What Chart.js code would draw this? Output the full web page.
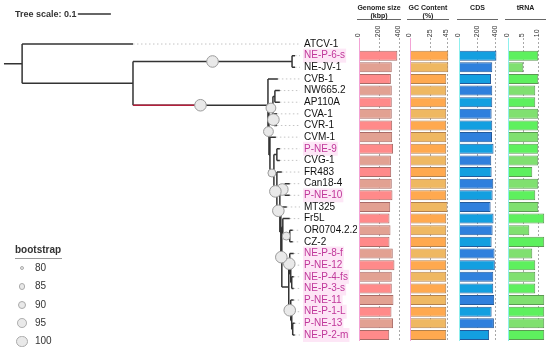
<!DOCTYPE html>
<html>
<head>
<meta charset="utf-8">
<script src="https://cdn.jsdelivr.net/npm/chart.js@4.4.1/dist/chart.umd.min.js"></script>
<style>
  body { margin: 0; background: #fff; font-family: 'Liberation Sans', Arial, sans-serif; }
  #wrap { position: relative; width: 550px; height: 358px; overflow: hidden; }
  #wrap canvas { position: absolute; top: 0; }
  .hd { position: absolute; top: 4px; height: 15px; font-size: 7px; font-weight: bold; line-height: 7.5px;
        text-align: center; color: #222; border-bottom: 1px solid #666; }
  #scale { position: absolute; left: 15px; top: 9px; font-size: 9px; font-weight: bold; color: #333; }
  #legend { position: absolute; left: 15px; top: 244px; width: 47px; color: #333; }
  #legend .t { font-size: 10px; font-weight: bold; padding-bottom: 3px; border-bottom: 1px solid #999; }
  #legend .it { position: relative; height: 18.3px; font-size: 10px; line-height: 18.3px; padding-left: 20px; }
  #legend .dot { position: absolute; border-radius: 50%; background: #e9e9e9; border: 1px solid #aaa; box-sizing: border-box; }
</style>
</head>
<body>
<div id="wrap">
  <canvas id="tree" width="357" height="358" style="left:0"></canvas>
  <canvas id="genome"></canvas>
  <canvas id="gc"></canvas>
  <canvas id="cds"></canvas>
  <canvas id="trna"></canvas>
  <div class="hd" style="left:357px;width:44px">Genome size<br>(kbp)</div>
  <div class="hd" style="left:407px;width:42px">GC Content<br>(%)</div>
  <div class="hd" style="left:457px;width:41px">CDS</div>
  <div class="hd" style="left:505px;width:41px">tRNA</div>
  <div id="scale">Tree scale: 0.1</div>
  <div id="legend"><div class="t">bootstrap</div></div>
</div>
<script>
// Taxa, top to bottom
const taxa = ['ATCV-1', 'NE-P-6-s', 'NE-JV-1', 'CVB-1', 'NW665.2', 'AP110A', 'CVA-1', 'CVR-1', 'CVM-1',
  'P-NE-9', 'CVG-1', 'FR483', 'Can18-4', 'P-NE-10', 'MT325', 'Fr5L', 'OR0704.2.2', 'CZ-2',
  'NE-P-8-f', 'P-NE-12', 'NE-P-4-fs', 'NE-P-3-s', 'P-NE-11', 'NE-P-1-L', 'P-NE-13', 'NE-P-2-m'];

const genomeSize = [null, 383, 327, 318, 327, 327, 327, 331, 331, 340, 318, 321, 327, 334, 311,
  304, 314, 304, 337, 354, 327, 327, 344, 324, 340, 301];
const gcContent = [null, 46.5, 46.5, 44, 44, 44, 44, 44, 44, 44, 44, 44, 44, 44, 45.4,
  44, 44, 44, 44, 44, 44, 44, 44, 44, 44, 44];
const cdsCount = [null, 407, 361, 347, 361, 361, 354, 361, 358, 375, 350, 354, 372, 365, 343,
  375, 365, 354, 386, 389, 372, 372, 382, 354, 379, 326];
const trnaCount = [null, 10, 5, 10, 9, 9, 10, 10, 10, 10, 10, 8, 10, 9, 10,
  12, 7, 12, 8, 9, 9, 9, 12, 12, 12, 12];

const genomeTicks = [0, 200, 400];
const gcTicks = [0, 25, 45];
const cdsTicks = [0, 200, 400];
const trnaTicks = [0, 5, 10];
const bootstrapLegend = [80, 85, 90, 95, 100];

// tree with branch lengths, bootstrap as internal labels
const treeNewick = '(ATCV-1:0.336,((NE-P-6-s:0.009,NE-JV-1:0.009)100:0.482,(CVB-1:0.030,' +
  '(((NW665.2:0.015,AP110A:0.015):0.006,(CVA-1:0.009,CVR-1:0.009)100:0.003)95:0.012,' +
  '(CVM-1:0.018,((P-NE-9:0.009,CVG-1:0.009):0.009,(FR483:0.015,((Can18-4:0.015,P-NE-10:0.015)100:0.015,' +
  '(MT325:0.018,((Fr5L:0.021,(OR0704.2.2:0.009,CZ-2:0.009)90:0.021):0.003,' +
  '((NE-P-8-f:0.012,(P-NE-12:0.009,(NE-P-4-fs:0.006,NE-P-3-s:0.006):0.003):0.003)100:0.003,' +
  '(P-NE-11:0.009,(NE-P-1-L:0.006,(P-NE-13:0.006,NE-P-2-m:0.006):0.003):0.003)100:0.006):0.021)100:0.003)' +
  ':0.003)100:0.009)100:0.009)90:0.012):0.003)95:0.003)100:0.409):0.336):0.055;';
const treeScale = 0.1;
const accentClade = ['CVB-1', 'NE-P-2-m'];

const isNew = name => /^(NE-P|P-NE)-/.test(name);
const rad = bs => 2.2 + (bs - 80) * 0.18;

Chart.defaults.font.family = "'Liberation Sans', Arial, sans-serif";

function parseNewick(s) {
  let i = 0;
  function node() {
    const n = { children: [] };
    if (s[i] === '(') {
      i++;
      n.children.push(node());
      while (s[i] === ',') { i++; n.children.push(node()); }
      i++;
    }
    let label = '';
    while (i < s.length && !':,);'.includes(s[i])) label += s[i++];
    n.label = label;
    if (s[i] === ':') {
      i++;
      let num = '';
      while (i < s.length && !',);'.includes(s[i])) num += s[i++];
      n.len = parseFloat(num);
    }
    return n;
  }
  return node();
}

// --- tree ---
const X_END = 300 / 330;
const branches = [], leaders = [], nodes = [], accent = [];
function layout(n, x0) {
  n.x0 = x0;
  n.x = x0 + (n.len || 0);
  if (!n.children.length) {
    n.y = taxa.indexOf(n.label);
    n.first = n.last = n.label;
    leaders.push({ x: n.x, y: n.y }, { x: X_END, y: n.y }, { x: X_END, y: null });
  } else {
    n.children.forEach(c => layout(c, n.x));
    const a = n.children[0], b = n.children[n.children.length - 1];
    n.y = (a.y + b.y) / 2;
    n.first = a.first; n.last = b.last;
    branches.push({ x: n.x, y: a.y }, { x: n.x, y: b.y }, { x: n.x, y: null });
    if (n.label) nodes.push({ x: (n.x0 + n.x) / 2, y: n.y, bs: +n.label });
    if (n.first === accentClade[0] && n.last === accentClade[1])
      accent.push({ x: n.x0, y: n.y }, { x: (n.x0 + n.x) / 2, y: n.y });
  }
  branches.push({ x: n.x0, y: n.y }, { x: n.x, y: n.y }, { x: n.x, y: null });
}
layout(parseNewick(treeNewick), 0.012);

const sx = 0.236, sy = -2.58;
const scaleBar = [{ x: sx, y: sy }, { x: sx + treeScale / 2, y: sy }, { x: sx + treeScale, y: sy }];

new Chart(document.getElementById('tree'), {
  type: 'scatter',
  data: {
    datasets: [
      { data: nodes, showLine: false, pointRadius: c => rad(c.raw.bs), pointHoverRadius: c => rad(c.raw.bs),
        pointBackgroundColor: '#e9e9e9', pointBorderColor: '#9a9a9a', pointBorderWidth: 1 },
      { data: accent, showLine: true, pointRadius: 0, borderColor: '#b3203d', borderWidth: 1.5 },
      { data: branches, showLine: true, pointRadius: 0, borderColor: '#333', borderWidth: 1.5 },
      { data: leaders, showLine: true, pointRadius: 0, borderColor: '#c4c4c4', borderWidth: 1, borderDash: [1.5, 2.5] },
      { data: scaleBar, showLine: true, clip: false, borderColor: '#333', borderWidth: 1.3,
        pointStyle: 'line', rotation: 90, pointRadius: c => c.dataIndex === 1 ? 1.5 : 2.5,
        pointBorderColor: '#333', pointBorderWidth: 1.3 }
    ]
  },
  options: {
    responsive: false, animation: false, events: [],
    layout: { autoPadding: false, padding: { top: 38.2, bottom: 17.2, left: 0, right: 0 } },
    plugins: { legend: { display: false }, tooltip: { enabled: false } },
    scales: {
      x: { display: false, min: 0, max: X_END },
      y: {
        position: 'right', reverse: true, min: -0.5, max: 25.5,
        grid: { display: false, drawTicks: false }, border: { display: false },
        afterBuildTicks: s => { s.ticks = taxa.map((_, i) => ({ value: i })); },
        afterFit: s => { s.width = 57; },
        ticks: {
          autoSkip: false, padding: 4, font: { size: 10 },
          callback: v => taxa[v],
          color: c => isNew(taxa[c.index]) ? '#c0379a' : '#111',
          showLabelBackdrop: true, backdropPadding: 1,
          backdropColor: c => isNew(taxa[c.index]) ? '#fde6f6' : 'rgba(0,0,0,0)'
        }
      }
    }
  }
});

// --- bar panels ---
function panel(id, left, right, values, ticks, max, fills, border, edge) {
  const cv = document.getElementById(id);
  cv.style.left = (left - 8) + 'px';
  cv.width = right - left + 16;
  cv.height = 358;
  new Chart(cv, {
    type: 'bar',
    data: {
      labels: taxa,
      datasets: [{
        data: values, backgroundColor: c => fills[c.dataIndex % 2], borderColor: border, borderWidth: 1,
        barPercentage: 0.86, categoryPercentage: 1
      }]
    },
    options: {
      indexAxis: 'y', responsive: false, animation: false, events: [],
      layout: { autoPadding: false, padding: { left: 8, right: 8, top: 0, bottom: 17.2 } },
      plugins: { legend: { display: false }, tooltip: { enabled: false } },
      scales: {
        x: {
          position: 'top', min: 0, max: max,
          afterBuildTicks: s => { s.ticks = ticks.map(v => ({ value: v })); },
          afterFit: s => { s.height = 38.2; },
          ticks: { minRotation: 90, maxRotation: 90, autoSkip: false, padding: 1, labelOffset: 7.5,
                   color: '#333', font: { size: 7 } },
          grid: { drawTicks: false, color: c => (c.tick && c.tick.value === 0) ? 'rgba(0,0,0,0)' : '#a8a8a8' },
          border: { display: false, dash: [2, 2] }
        },
        y: {
          ticks: { display: false }, grid: { display: false, drawTicks: false },
          border: { display: true, color: edge, width: 1 },
          afterFit: s => { s.width = 0; s.paddingTop = 0; s.paddingBottom = 0; }
        }
      }
    }
  });
}

panel('genome', 358, 399, genomeSize, genomeTicks, 400, ['#e2a192', '#ff8a8a'], '#a86a66', '#f3a3d6');
panel('gc', 409, 449, gcContent, gcTicks, 47.4, ['#efb862', '#ffa94f'], '#b2804c', '#f3a3d6');
panel('cds', 458, 498, cdsCount, cdsTicks, 424, ['#2f80dd', '#139fe0'], '#22599a', '#8ff0ee');
panel('trna', 507, 546, trnaCount, trnaTicks, 12.6, ['#80e070', '#5ef05e'], '#5b9a52', '#8ff0ee');

// --- bootstrap legend ---
const lg = document.getElementById('legend');
bootstrapLegend.forEach(v => {
  const it = document.createElement('div');
  it.className = 'it';
  const d = document.createElement('span');
  d.className = 'dot';
  const r = rad(v);
  d.style.width = d.style.height = (2 * r) + 'px';
  d.style.left = (7 - r) + 'px';
  d.style.top = (9.15 - r) + 'px';
  it.appendChild(d);
  it.appendChild(document.createTextNode(v));
  lg.appendChild(it);
});
</script>
</body>
</html>
